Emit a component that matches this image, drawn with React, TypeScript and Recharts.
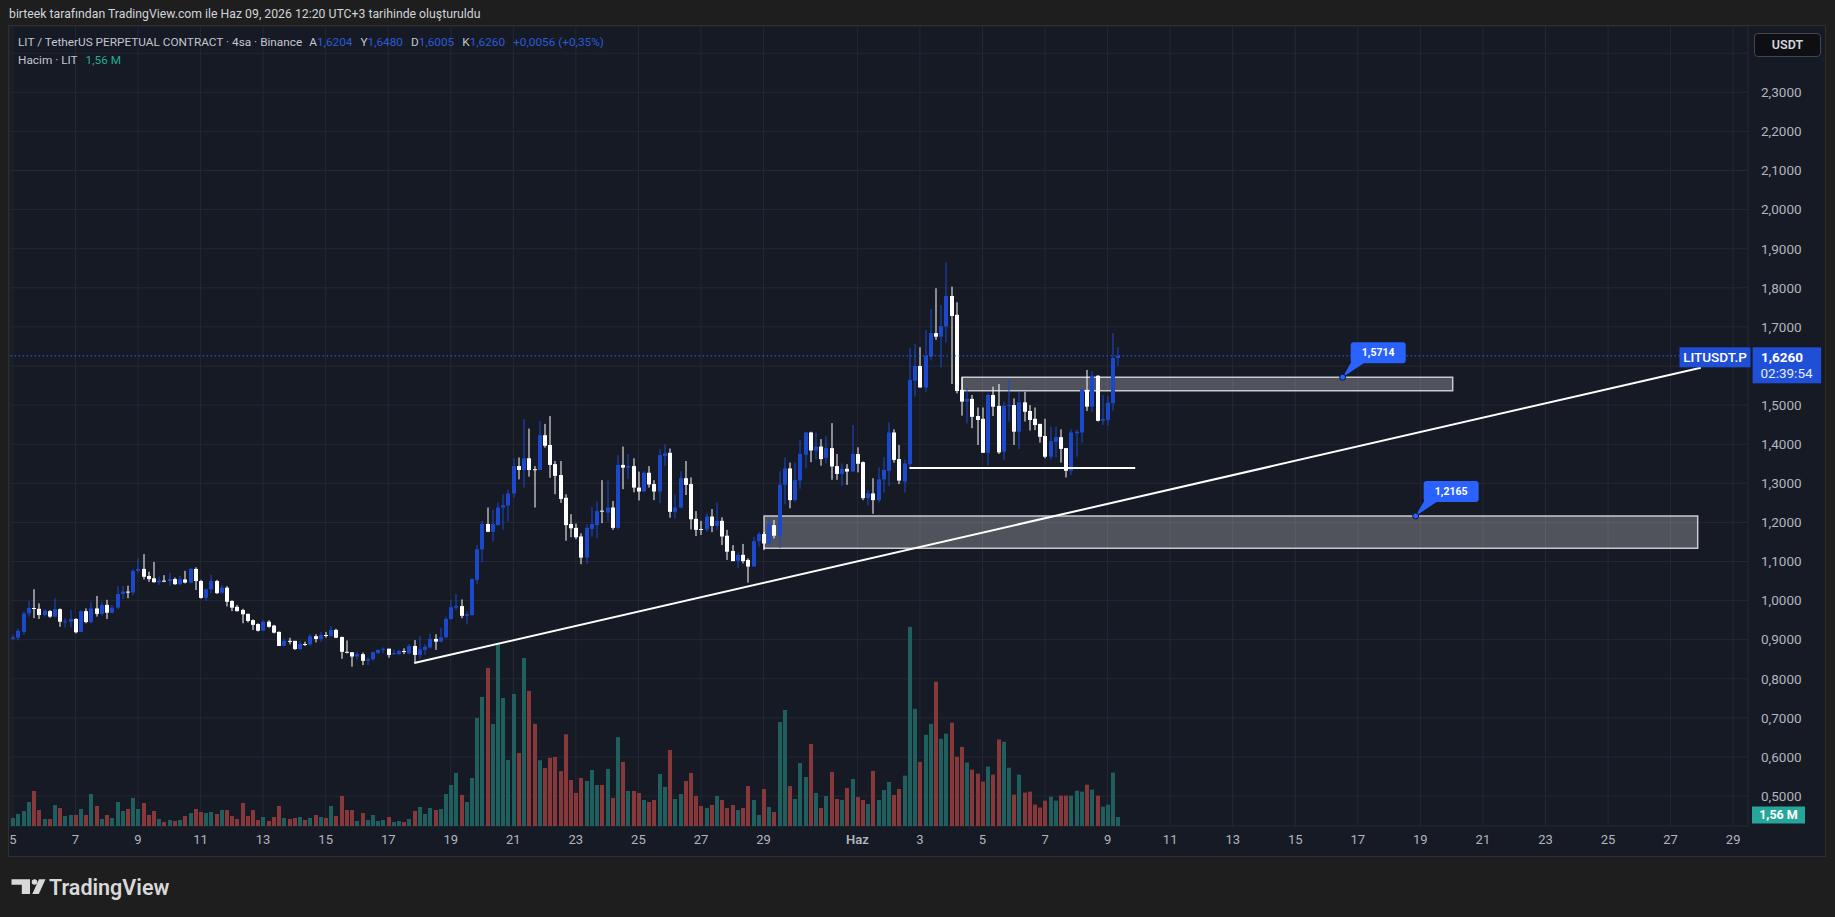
import React from "react";
import {
  ComposedChart, Bar, XAxis, YAxis, CartesianGrid,
  ReferenceArea, ReferenceLine, ReferenceDot,
} from "recharts";

const FONT = "Roboto, 'Noto Sans', Arial, sans-serif";
const PAGE = "#1e1e1e";
const BG = "#161a25";
const GRID = "#242834";
const TEXT = "#b2b5be";
const UP = "#1c48cc";
const DOWN = "#ffffff";
const VOL_UP = "#1f605f";
const VOL_DOWN = "#86383b";
const TAG = "#1e4fd6";
const CALLOUT = "#2962ff";
const VALUE = "#2a5bd7";

// 4h candles, LIT/USDT, starting May 5 03:00 (UTC+3)
const OPEN = [
  0.902, 0.905, 0.920, 0.967, 0.981, 0.979, 0.963, 0.973, 0.959, 0.978,
  0.946, 0.946, 0.953, 0.920, 0.973, 0.945, 0.980, 0.966, 0.989, 0.969,
  0.982, 1.017, 1.023, 1.021, 1.076, 1.081, 1.063, 1.057, 1.047, 1.051,
  1.050, 1.055, 1.042, 1.054, 1.046, 1.081, 1.050, 1.007, 1.029, 1.050,
  1.020, 1.033, 0.999, 0.984, 0.976, 0.966, 0.950, 0.940, 0.923, 0.946,
  0.936, 0.920, 0.884, 0.897, 0.897, 0.876, 0.889, 0.888, 0.909, 0.902,
  0.912, 0.910, 0.925, 0.907, 0.869, 0.868, 0.857, 0.863, 0.846, 0.850,
  0.866, 0.874, 0.877, 0.863, 0.863, 0.871, 0.865, 0.884, 0.861, 0.874,
  0.880, 0.902, 0.895, 0.906, 0.953, 0.982, 0.986, 0.961, 0.963, 1.053,
  1.131, 1.196, 1.176, 1.193, 1.238, 1.243, 1.274, 1.344, 1.334, 1.364,
  1.336, 1.334, 1.423, 1.398, 1.349, 1.321, 1.263, 1.196, 1.186, 1.164,
  1.110, 1.183, 1.193, 1.230, 1.225, 1.238, 1.186, 1.347, 1.340, 1.344,
  1.289, 1.279, 1.327, 1.298, 1.279, 1.370, 1.378, 1.227, 1.238, 1.313,
  1.298, 1.209, 1.183, 1.182, 1.215, 1.191, 1.204, 1.166, 1.127, 1.102,
  1.117, 1.104, 1.087, 1.152, 1.170, 1.146, 1.193, 1.166, 1.296, 1.338,
  1.257, 1.307, 1.373, 1.430, 1.384, 1.394, 1.365, 1.390, 1.344, 1.324,
  1.337, 1.330, 1.375, 1.354, 1.262, 1.274, 1.257, 1.310, 1.332, 1.430,
  1.362, 1.304, 1.349, 1.562, 1.600, 1.545, 1.624, 1.684, 1.675, 1.701,
  1.779, 1.731, 1.539, 1.509, 1.516, 1.472, 1.465, 1.378, 1.526, 1.498,
  1.381, 1.498, 1.500, 1.432, 1.507, 1.485, 1.465, 1.452, 1.421, 1.368,
  1.406, 1.418, 1.390, 1.332, 1.428, 1.430, 1.539, 1.496, 1.575, 1.460,
  1.462, 1.505, 1.6204,
];

const HIGH = [
  0.912, 0.929, 0.972, 0.999, 1.029, 0.993, 0.978, 0.976, 1.006, 0.980,
  0.955, 0.976, 0.955, 0.976, 0.980, 0.997, 1.012, 0.997, 1.002, 0.989,
  1.037, 1.037, 1.038, 1.080, 1.108, 1.119, 1.074, 1.099, 1.061, 1.065,
  1.071, 1.059, 1.063, 1.076, 1.083, 1.085, 1.053, 1.030, 1.066, 1.053,
  1.040, 1.037, 1.001, 0.989, 0.979, 0.967, 0.952, 0.942, 0.950, 0.950,
  0.938, 0.921, 0.903, 0.905, 0.897, 0.897, 0.895, 0.914, 0.914, 0.920,
  0.920, 0.935, 0.928, 0.908, 0.898, 0.868, 0.869, 0.867, 0.855, 0.869,
  0.875, 0.880, 0.877, 0.875, 0.874, 0.878, 0.889, 0.899, 0.909, 0.888,
  0.915, 0.914, 0.931, 0.959, 1.002, 1.017, 1.003, 0.972, 1.057, 1.142,
  1.204, 1.238, 1.232, 1.251, 1.272, 1.284, 1.364, 1.366, 1.464, 1.440,
  1.344, 1.459, 1.452, 1.472, 1.357, 1.357, 1.272, 1.221, 1.197, 1.172,
  1.195, 1.240, 1.253, 1.308, 1.308, 1.255, 1.372, 1.394, 1.375, 1.364,
  1.330, 1.331, 1.344, 1.308, 1.387, 1.400, 1.389, 1.272, 1.331, 1.357,
  1.315, 1.229, 1.204, 1.223, 1.234, 1.251, 1.213, 1.181, 1.142, 1.123,
  1.145, 1.108, 1.163, 1.176, 1.176, 1.212, 1.206, 1.331, 1.366, 1.353,
  1.353, 1.411, 1.432, 1.432, 1.430, 1.413, 1.421, 1.454, 1.375, 1.351,
  1.349, 1.449, 1.392, 1.356, 1.283, 1.313, 1.341, 1.367, 1.456, 1.438,
  1.398, 1.360, 1.647, 1.656, 1.648, 1.692, 1.746, 1.799, 1.756, 1.865,
  1.803, 1.763, 1.571, 1.543, 1.526, 1.494, 1.494, 1.530, 1.547, 1.554,
  1.509, 1.567, 1.517, 1.534, 1.534, 1.500, 1.494, 1.452, 1.465, 1.445,
  1.445, 1.438, 1.390, 1.437, 1.437, 1.543, 1.590, 1.587, 1.577, 1.526,
  1.523, 1.684, 1.648,
];

const LOW = [
  0.899, 0.899, 0.912, 0.959, 0.955, 0.953, 0.959, 0.956, 0.957, 0.933,
  0.931, 0.932, 0.916, 0.919, 0.942, 0.942, 0.959, 0.961, 0.953, 0.967,
  0.978, 1.004, 1.006, 1.014, 1.070, 1.054, 1.048, 1.046, 1.040, 1.047,
  1.038, 1.040, 1.040, 1.044, 1.044, 1.027, 1.005, 0.999, 1.019, 1.017,
  1.017, 0.985, 0.973, 0.972, 0.942, 0.944, 0.925, 0.921, 0.922, 0.931,
  0.916, 0.884, 0.884, 0.888, 0.874, 0.874, 0.884, 0.885, 0.893, 0.895,
  0.905, 0.906, 0.904, 0.851, 0.865, 0.831, 0.848, 0.835, 0.835, 0.846,
  0.863, 0.865, 0.854, 0.861, 0.861, 0.863, 0.862, 0.841, 0.851, 0.861,
  0.878, 0.874, 0.893, 0.904, 0.951, 0.976, 0.955, 0.939, 0.961, 1.042,
  1.098, 1.175, 1.151, 1.193, 1.181, 1.202, 1.263, 1.310, 1.289, 1.317,
  1.238, 1.334, 1.391, 1.314, 1.272, 1.250, 1.153, 1.162, 1.157, 1.093,
  1.094, 1.163, 1.159, 1.198, 1.202, 1.181, 1.182, 1.285, 1.311, 1.277,
  1.256, 1.279, 1.289, 1.257, 1.249, 1.344, 1.212, 1.210, 1.236, 1.270,
  1.182, 1.165, 1.168, 1.176, 1.175, 1.181, 1.142, 1.104, 1.101, 1.084,
  1.095, 1.046, 1.087, 1.138, 1.129, 1.140, 1.159, 1.134, 1.246, 1.236,
  1.253, 1.286, 1.338, 1.354, 1.361, 1.345, 1.351, 1.309, 1.309, 1.294,
  1.296, 1.330, 1.328, 1.257, 1.243, 1.222, 1.251, 1.276, 1.293, 1.353,
  1.298, 1.276, 1.338, 1.522, 1.545, 1.534, 1.614, 1.667, 1.596, 1.660,
  1.554, 1.530, 1.473, 1.453, 1.441, 1.398, 1.378, 1.345, 1.472, 1.375,
  1.360, 1.458, 1.398, 1.388, 1.458, 1.435, 1.436, 1.404, 1.364, 1.360,
  1.366, 1.353, 1.315, 1.321, 1.368, 1.404, 1.485, 1.483, 1.458, 1.449,
  1.447, 1.486, 1.6005,
];

const CLOSE = [
  0.906, 0.923, 0.967, 0.981, 0.979, 0.963, 0.974, 0.959, 0.978, 0.946,
  0.947, 0.953, 0.919, 0.973, 0.945, 0.980, 0.966, 0.989, 0.969, 0.982,
  1.017, 1.023, 1.021, 1.076, 1.081, 1.061, 1.055, 1.047, 1.051, 1.050,
  1.055, 1.042, 1.054, 1.046, 1.081, 1.050, 1.007, 1.029, 1.050, 1.019,
  1.033, 0.997, 0.982, 0.973, 0.965, 0.948, 0.938, 0.923, 0.946, 0.933,
  0.918, 0.884, 0.897, 0.896, 0.876, 0.889, 0.888, 0.909, 0.902, 0.912,
  0.910, 0.925, 0.905, 0.869, 0.868, 0.857, 0.863, 0.846, 0.850, 0.868,
  0.874, 0.877, 0.861, 0.866, 0.871, 0.870, 0.884, 0.861, 0.875, 0.882,
  0.902, 0.895, 0.906, 0.953, 0.983, 0.986, 0.961, 0.965, 1.055, 1.131,
  1.196, 1.176, 1.196, 1.238, 1.244, 1.274, 1.344, 1.334, 1.364, 1.334,
  1.335, 1.423, 1.396, 1.347, 1.319, 1.260, 1.193, 1.185, 1.162, 1.110,
  1.186, 1.196, 1.229, 1.229, 1.238, 1.186, 1.347, 1.340, 1.344, 1.289,
  1.279, 1.327, 1.297, 1.279, 1.372, 1.377, 1.227, 1.238, 1.313, 1.296,
  1.208, 1.181, 1.182, 1.215, 1.191, 1.204, 1.164, 1.125, 1.101, 1.117,
  1.101, 1.087, 1.152, 1.170, 1.146, 1.196, 1.166, 1.296, 1.338, 1.257,
  1.308, 1.375, 1.430, 1.384, 1.394, 1.362, 1.390, 1.343, 1.324, 1.337,
  1.330, 1.375, 1.350, 1.262, 1.274, 1.257, 1.310, 1.334, 1.430, 1.360,
  1.307, 1.351, 1.564, 1.600, 1.545, 1.626, 1.684, 1.675, 1.702, 1.779,
  1.728, 1.536, 1.509, 1.516, 1.470, 1.462, 1.378, 1.526, 1.496, 1.379,
  1.498, 1.500, 1.432, 1.507, 1.483, 1.462, 1.449, 1.419, 1.368, 1.408,
  1.418, 1.388, 1.332, 1.430, 1.432, 1.539, 1.496, 1.575, 1.460, 1.464,
  1.506, 1.6204, 1.626,
];

// volume in millions LIT
const VOLUME = [
  1.39, 2.08, 2.60, 4.16, 6.07, 2.77, 1.21, 1.21, 3.64, 3.12,
  1.73, 1.91, 1.91, 2.95, 1.91, 5.55, 3.47, 1.21, 1.91, 1.39,
  4.16, 2.60, 2.95, 4.85, 2.95, 3.99, 1.91, 2.60, 1.21, 0.69,
  1.04, 0.87, 1.04, 1.73, 2.25, 2.95, 2.43, 2.25, 2.43, 2.08,
  2.77, 2.77, 1.73, 1.21, 3.99, 1.73, 2.77, 1.04, 1.56, 0.87,
  1.56, 3.47, 1.39, 1.21, 1.39, 1.56, 1.04, 1.39, 1.91, 1.56,
  1.39, 3.47, 1.73, 5.20, 2.77, 2.77, 0.87, 2.25, 1.04, 1.91,
  0.87, 1.04, 1.56, 0.69, 0.87, 0.69, 1.21, 2.60, 3.29, 2.08,
  3.12, 2.77, 2.95, 5.55, 7.11, 9.19, 5.37, 4.16, 8.32, 18.72,
  22.36, 27.38, 17.68, 31.48, 22.18, 11.44, 22.88, 12.65, 29.1, 23.4,
  17.7, 11.4, 10.05, 11.8, 11.96, 9.5, 15.9, 7.97, 5.72, 8.32,
  7.80, 9.71, 7.11, 7.11, 9.88, 4.85, 15.4, 11.1, 6.07, 6.07,
  5.72, 4.51, 4.16, 4.51, 9.01, 6.76, 13.17, 4.68, 5.55, 7.80,
  9.19, 5.20, 3.47, 3.12, 3.64, 5.20, 4.51, 3.12, 3.64, 2.77,
  3.12, 6.93, 4.51, 1.91, 6.41, 3.29, 2.43, 18.0, 20.1, 6.93,
  4.68, 10.9, 8.49, 14.2, 5.72, 3.12, 5.20, 9.36, 4.68, 4.51,
  6.59, 8.15, 5.03, 4.51, 3.81, 9.53, 4.51, 6.24, 7.63, 5.37,
  6.41, 8.72, 34.5, 20.3, 11.1, 15.8, 17.7, 25.0, 15.1, 16.0,
  17.9, 12.0, 13.7, 11.0, 9.76, 9.07, 7.68, 10.3, 8.90, 15.0,
  14.6, 10.1, 5.43, 8.90, 5.78, 5.95, 3.70, 3.18, 4.39, 5.08,
  4.39, 5.26, 5.26, 5.26, 6.12, 5.95, 7.16, 6.30, 5.26, 3.35,
  3.70, 9.24, 1.56,
];

const DAY_TICKS = [0, 12, 24, 36, 48, 60, 72, 84, 96, 108, 120, 132, 144,
  162, 174, 186, 198, 210, 222, 234, 246, 258, 270, 282, 294, 306, 318, 330];
const DAY_LABELS = ["5", "7", "9", "11", "13", "15", "17", "19", "21", "23", "25", "27", "29",
  "Haz", "3", "5", "7", "9", "11", "13", "15", "17", "19", "21", "23", "25", "27", "29"];

const PRICE_TICKS = [0.5, 0.6, 0.7, 0.8, 0.9, 1.0, 1.1, 1.2, 1.3, 1.4, 1.5, 1.6,
  1.7, 1.8, 1.9, 2.0, 2.1, 2.2, 2.3, 2.4];
const HIDDEN_PRICE_TICKS = [1.6, 2.4];

// drawings on the chart (bar index / price)
const ZONE_UPPER = { x1: 182.1, x2: 276.2, y1: 1.5368, y2: 1.5714 };
const ZONE_LOWER = { x1: 144.1, x2: 323.2, y1: 1.1338, y2: 1.2165 };
const SUPPORT_LINE = [{ x: 172, y: 1.339 }, { x: 215.3, y: 1.339 }];
const TREND_LINE = [{ x: 77, y: 0.8404 }, { x: 323.8, y: 1.5957 }];
const CALLOUTS = [
  { x: 255.1, y: 1.5714 },
  { x: 269.1, y: 1.2165 },
];

const X_DOMAIN: [number, number] = [-0.55, 332.85];
const PRICE_DOMAIN: [number, number] = [0.4235, 2.4696];
const VOL_DOMAIN: [number, number] = [0, 138.6];

const data = OPEN.map((o, i) => ({ i, o, h: HIGH[i], l: LOW[i], c: CLOSE[i], v: VOLUME[i] }));
const LAST = data[data.length - 1];
const PREV_CLOSE = CLOSE[CLOSE.length - 2];

const fmt = (v: number) => v.toFixed(4).replace(".", ",");
const sign = (v: number) => (v >= 0 ? "+" : "");

function CandleShape(props: any) {
  const { x, y, width, height, payload } = props;
  const { o, h, l, c } = payload;
  const color = c >= o ? UP : DOWN;
  const k = h - l > 0 ? Math.abs(height) / (h - l) : 0;
  const top = y + (h - Math.max(o, c)) * k;
  const bh = Math.max(1, Math.abs(c - o) * k);
  const bx = Math.round(x);
  return (
    <g>
      <rect x={bx + 1.5} y={y} width={1} height={Math.max(1, Math.abs(height))} fill={color} />
      <rect x={bx} y={top} width={width} height={bh} fill={color} />
    </g>
  );
}

function VolumeShape(props: any) {
  const { x, y, width, height, payload } = props;
  return (
    <rect x={Math.round(x)} y={y} width={width} height={height}
      fill={payload.c >= payload.o ? VOL_UP : VOL_DOWN} />
  );
}

function XTick(props: any) {
  const { x, y, payload } = props;
  const label = DAY_LABELS[DAY_TICKS.indexOf(payload.value)];
  return (
    <text x={x} y={y} dy={9.5} textAnchor="middle" fill={TEXT} fontSize={13}
      fontFamily={FONT} fontWeight={label === "Haz" ? 600 : 400}>
      {label}
    </text>
  );
}

function YTick(props: any) {
  const { x, y, payload } = props;
  if (HIDDEN_PRICE_TICKS.includes(payload.value)) return null;
  return (
    <text x={x} y={y} dy={4.8} textAnchor="start" fill={TEXT} fontSize={13.5} fontFamily={FONT}>
      {fmt(payload.value)}
    </text>
  );
}

function LastPriceTag(props: any) {
  const { viewBox } = props;
  const right = viewBox.x + viewBox.width;
  const y = viewBox.y;
  return (
    <g fontFamily={FONT}>
      <rect x={right - 68.5} y={y - 8.5} width={71} height={20} fill={TAG} />
      <text x={right - 33} y={y + 1.5} textAnchor="middle" dominantBaseline="central"
        fill="#fff" fontSize={13.5} fontWeight={500}>LITUSDT.P</text>
      <rect x={right + 4.6} y={y - 8.5} width={68.5} height={36} fill={TAG} />
      <text x={right + 13} y={y + 1.5} dominantBaseline="central" fill="#fff"
        fontSize={13.5} fontWeight={700}>{fmt(LAST.c)}</text>
      <text x={right + 12.5} y={y + 17.5} dominantBaseline="central" fill="#e6ebff"
        fontSize={13.5}>02:39:54</text>
    </g>
  );
}

function VolumeTag(props: any) {
  const { viewBox } = props;
  const right = viewBox.x + viewBox.width;
  const y = viewBox.y;
  return (
    <g fontFamily={FONT}>
      <rect x={right + 4} y={y - 10.5} width={53} height={17} fill="#26a69a" />
      <text x={right + 30.5} y={y - 2} textAnchor="middle" dominantBaseline="central"
        fill="#fff" fontSize={12.5} fontWeight={700}>{LAST.v.toFixed(2).replace(".", ",")} M</text>
    </g>
  );
}

function Callout(props: any) {
  const { cx, cy, text } = props;
  return (
    <g fontFamily={FONT}>
      <path d={`M${cx},${cy} L${cx + 9},${cy - 16} L${cx + 24},${cy - 16} Z`} fill={CALLOUT} />
      <rect x={cx + 8} y={cy - 35} width={55} height={21} rx={3} fill={CALLOUT} />
      <text x={cx + 35.5} y={cy - 24.5} textAnchor="middle" dominantBaseline="central"
        fill="#fff" fontSize={10.5} fontWeight={700}>{text}</text>
      <circle cx={cx} cy={cy} r={3} fill={CALLOUT} stroke="#0c1633" strokeWidth={1} />
    </g>
  );
}

function TvLogo() {
  return (
    <svg width={220} height={40} style={{ position: "absolute", left: 0, top: 868 }}>
      <g transform="translate(0,-868)">
        <path d="M11.5,879.3 L30,879.3 L30,894 L21.8,894 L21.8,884.7 L11.5,884.7 Z" fill="#d9d9d9" />
        <circle cx={34.5} cy={882} r={2.8} fill="#d9d9d9" />
        <path d="M39,879.3 L45.5,879.3 L38.8,894 L32.3,894 Z" fill="#d9d9d9" />
        <text x={49} y={894.5} fontSize={21.5} fontWeight={600} fill="#d9d9d9"
          fontFamily={FONT}>TradingView</text>
      </g>
    </svg>
  );
}

export default function App() {
  const change = LAST.c - PREV_CLOSE;
  const pct = (change / PREV_CLOSE) * 100;
  return (
    <div style={{ position: "fixed", left: 0, top: 0, width: 1835, height: 917, background: PAGE,
      fontFamily: FONT, overflow: "hidden" }}>
      <div style={{ position: "absolute", left: 9, top: 6, lineHeight: "16px", fontSize: 12.25,
        color: "#d1d4dc", whiteSpace: "pre" }}>
        birteek tarafından TradingView.com ile Haz 09, 2026 12:20 UTC+3 tarihinde oluşturuldu
      </div>

      <div style={{ position: "absolute", left: 8, top: 25, width: 1816, height: 830,
        border: "1px solid #2f2f2f", background: BG }} />

      <div style={{ position: "absolute", left: 9, top: 26 }}>
        <ComposedChart width={1816} height={830} data={data}
          margin={{ top: 0, right: 0, bottom: 0, left: 1 }}>
          <CartesianGrid xAxisId="p" yAxisId="p" stroke={GRID} />
          <XAxis xAxisId="p" dataKey="i" type="number" domain={X_DOMAIN} allowDataOverflow
            ticks={DAY_TICKS} interval={0} tickLine={false} axisLine={false}
            tickSize={0} tickMargin={8} height={30} tick={<XTick />} />
          <XAxis xAxisId="v" dataKey="i" type="number" domain={X_DOMAIN} allowDataOverflow hide />
          <YAxis yAxisId="p" orientation="right" type="number" domain={PRICE_DOMAIN}
            allowDataOverflow ticks={PRICE_TICKS} interval={0} width={77}
            tickLine={false} axisLine={false} tickSize={0} tickMargin={13} tick={<YTick />} />
          <YAxis yAxisId="v" type="number" domain={VOL_DOMAIN} allowDataOverflow hide />

          <Bar xAxisId="v" yAxisId="v" dataKey="v" barSize={4}
            shape={<VolumeShape />} isAnimationActive={false} />
          <Bar xAxisId="p" yAxisId="p" dataKey={(d: any) => [d.l, d.h]} barSize={4}
            shape={<CandleShape />} isAnimationActive={false} />

          <ReferenceArea xAxisId="p" yAxisId="p" {...ZONE_LOWER}
            fill="#ffffff" fillOpacity={0.25} stroke="#c8cad0" strokeWidth={1.5} />
          <ReferenceArea xAxisId="p" yAxisId="p" {...ZONE_UPPER}
            fill="#ffffff" fillOpacity={0.25} stroke="#c8cad0" strokeWidth={1.5} />
          <ReferenceLine xAxisId="p" yAxisId="p" segment={SUPPORT_LINE}
            stroke="#ffffff" strokeWidth={2} />
          <ReferenceLine xAxisId="p" yAxisId="p" segment={TREND_LINE}
            stroke="#ffffff" strokeWidth={2} />
          <ReferenceLine xAxisId="p" yAxisId="p" y={LAST.c} stroke={CALLOUT}
            strokeDasharray="1.5 2.5" label={LastPriceTag} />
          <ReferenceLine xAxisId="v" yAxisId="v" y={LAST.v} stroke="none" label={VolumeTag} />
          {CALLOUTS.map((p) => (
            <ReferenceDot key={p.x} xAxisId="p" yAxisId="p" x={p.x} y={p.y} r={3}
              shape={(s: any) => <Callout {...s} text={fmt(p.y)} />} />
          ))}
        </ComposedChart>
      </div>

      <div style={{ position: "absolute", left: 18, top: 34, lineHeight: "16px", fontSize: 11.8,
        color: "#c3c6ce", whiteSpace: "pre" }}>
        LIT / TetherUS PERPETUAL CONTRACT · 4sa · Binance
        <span style={{ marginLeft: 7 }}>A</span><span style={{ color: VALUE }}>{fmt(LAST.o)}</span>
        <span style={{ marginLeft: 8 }}>Y</span><span style={{ color: VALUE }}>{fmt(LAST.h)}</span>
        <span style={{ marginLeft: 8 }}>D</span><span style={{ color: VALUE }}>{fmt(LAST.l)}</span>
        <span style={{ marginLeft: 8 }}>K</span><span style={{ color: VALUE }}>{fmt(LAST.c)}</span>
        <span style={{ marginLeft: 8, color: VALUE }}>
          {sign(change)}{fmt(change)} ({sign(pct)}{pct.toFixed(2).replace(".", ",")}%)
        </span>
      </div>
      <div style={{ position: "absolute", left: 18, top: 52, lineHeight: "16px", fontSize: 11.8,
        color: "#c3c6ce", whiteSpace: "pre" }}>
        Hacim · LIT<span style={{ marginLeft: 8, color: "#22ab94" }}>
          {LAST.v.toFixed(2).replace(".", ",")} M</span>
      </div>

      <div style={{ position: "absolute", left: 1754, top: 33, width: 65, height: 22,
        border: "1px solid #434651", borderRadius: 4, background: "#0e0f13", color: "#d1d4dc",
        fontSize: 12.5, fontWeight: 600, lineHeight: "22px", textAlign: "center" }}>
        USDT
      </div>

      <TvLogo />
    </div>
  );
}
